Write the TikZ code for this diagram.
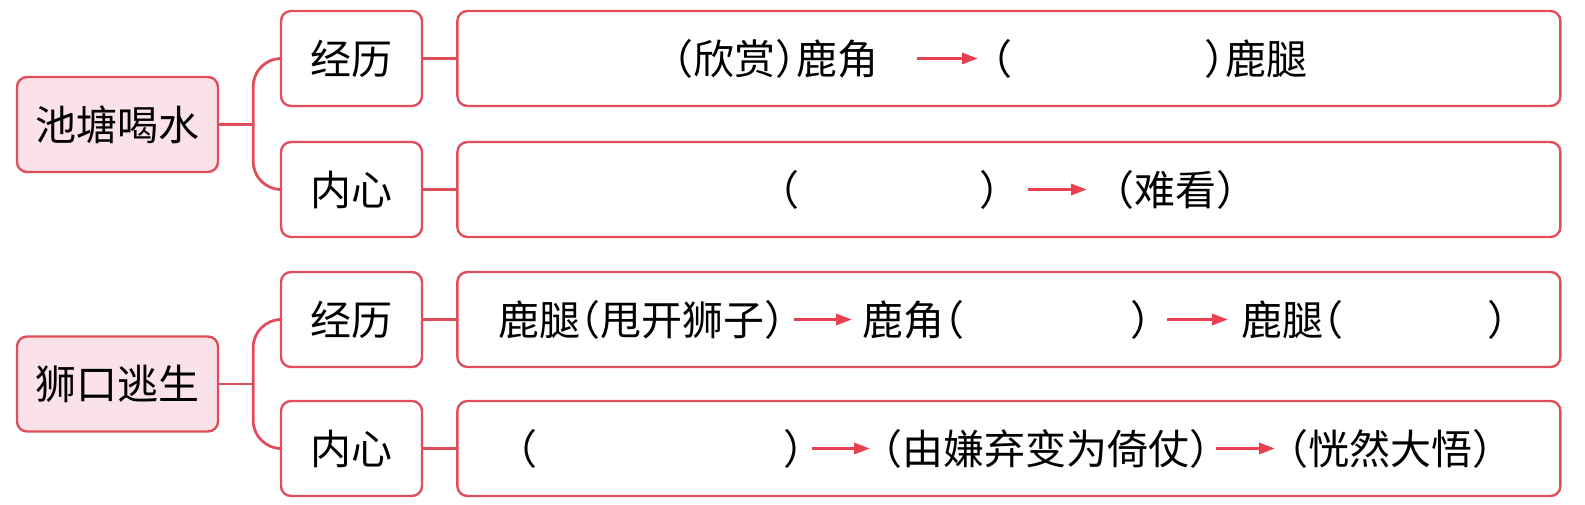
\documentclass[tikz,border=0pt]{standalone}
\usepackage{fontspec}
\setmainfont{Noto Sans CJK SC}[RawFeature=+halt]
\usetikzlibrary{positioning,arrows.meta}
\definecolor{mapred}{RGB}{224,78,92}
\definecolor{arrred}{RGB}{232,64,78}
\definecolor{rootpink}{RGB}{251,226,232}
\tikzset{
  box/.style={draw=mapred,line width=2.4pt,rounded corners=10pt,minimum height=95pt,inner sep=0pt},
  rootbox/.style={box,fill=rootpink,minimum width=201pt},
  subbox/.style={box,fill=white,minimum width=141pt},
  linebox/.style={box,minimum width=1103pt},
  txt/.style={inner sep=0pt,anchor=west},
  link/.style={draw=mapred,line width=2.8pt},
  flow/.style={->,draw=arrred,line width=3pt,shorten <=12pt,shorten >=12pt},
}
\newcommand\blank[1]{\hspace{#1pt}}

\begin{document}
\begin{tikzpicture}[x=1pt,y=-1pt,>={Triangle[length=16pt,width=11pt]},node distance=33pt,font=\fontsize{41pt}{46pt}\selectfont]
\useasboundingbox (0,0) rectangle (1585,505);
% 池塘喝水
\node[rootbox] (r1) at (117.5,124.5) {池塘喝水};
\node[subbox] (c1) at (351.5,58.5) {经历};
\node[subbox] (c2) at (351.5,189.5) {内心};
\node[linebox] (b1) [right=of c1] {};
\node[linebox] (b2) [right=of c2] {};
\coordinate (s1) at ([xshift=34pt]r1.east);
\draw[link] (r1.east) -- (s1);
\draw[link,rounded corners=28pt] (c1.west) -| (s1) |- (c2.west);
\draw[link] (c1) -- (b1);
\draw[link] (c2) -- (b2);
\node[txt] (p11) at (673,58.5) {（欣赏）鹿角};
\node[txt] (p12) at (992,58.5) {（\blank{192}）鹿腿};
\draw[flow,shorten <=39pt,shorten >=14pt] (p11) -- (p12);
\node[txt] (p21) at (779,189.5) {（\blank{180}）};
\node[txt] (p22) at (1114,189.5) {（难看）};
\draw[flow,shorten <=28pt,shorten >=27pt] (p21) -- (p22);
% 狮口逃生
\node[rootbox] (r2) at (117.5,384) {狮口逃生};
\node[subbox] (c3) at (351.5,319.5) {经历};
\node[subbox] (c4) at (351.5,448.5) {内心};
\node[linebox] (b3) [right=of c3] {};
\node[linebox] (b4) [right=of c4] {};
\coordinate (s2) at ([xshift=34pt]r2.east);
\draw[link] (r2.east) -- (s2);
\draw[link,rounded corners=28pt] (c3.west) -| (s2) |- (c4.west);
\draw[link] (c3) -- (b3);
\draw[link] (c4) -- (b4);
\node[txt] (p31) at (498,319.5) {鹿腿（甩开狮子）};
\node[txt] (p32) at (862,319.5) {鹿角（\blank{166}）};
\node[txt] (p33) at (1241,319.5) {鹿腿（\blank{144}）};
\draw[flow,shorten <=9pt,shorten >=10pt] (p31) -- (p32);
\draw[flow,shorten <=16pt,shorten >=13pt] (p32) -- (p33);
\node[txt] (p41) at (517,448.5) {（\blank{246}）};
\node[txt] (p42) at (882,448.5) {（由嫌弃变为倚仗）};
\node[txt] (p43) at (1288,448.5) {（恍然大悟）};
\draw[flow,shorten <=8pt] (p41) -- (p42);
\draw[flow,shorten <=6pt,shorten >=13pt] (p42) -- (p43);
\end{tikzpicture}
\end{document}
